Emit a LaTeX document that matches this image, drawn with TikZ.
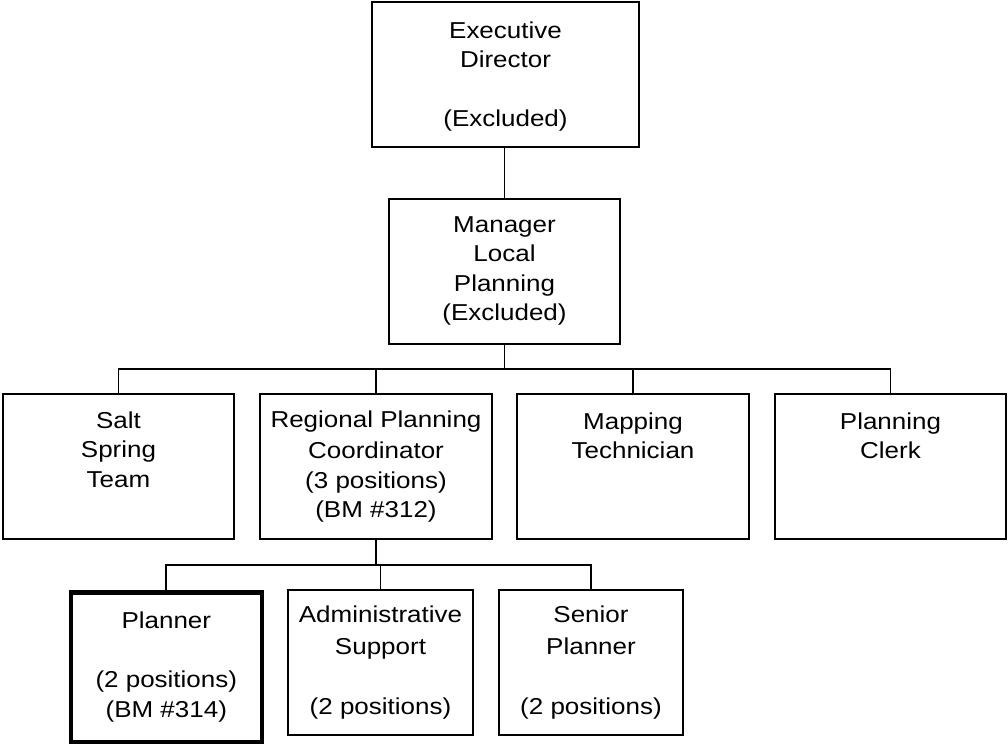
\documentclass[tikz,border=0pt]{standalone}
\usepackage{fontspec}
\setmainfont{Liberation Sans}[FakeStretch=1.13]
\newcommand{\bxt}[4]{\parbox[c][#2][t]{#1}{\centering\vspace*{#3}\rule{0pt}{20pt}#4}}
\begin{document}
\begin{tikzpicture}[x=1pt,y=-1pt,
  box/.style={draw, line width=1.9pt, inner sep=0pt, outer sep=0pt,
    font=\fontsize{23}{29.5}\selectfont},
  thickbox/.style={box, line width=4.5pt},
  conn/.style={line width=1.9pt}]
\useasboundingbox (0,0) rectangle (1008,744);
\fill[white] (0,0) rectangle (1008,744);
% top
\node[box] (exec) at (505.5,74.5) {\bxt{267pt}{145pt}{16pt}{Executive\\Director\\[29.5pt](Excluded)}};
\node[box] (mgr) at (504.5,271.5) {\bxt{231pt}{145pt}{13pt}{Manager\\Local\\Planning\\(Excluded)}};
% middle row
\node[box] (salt) at (118.5,466.5) {\bxt{231pt}{145pt}{14pt}{Salt\\Spring\\Team}};
\node[box] (reg) at (376,466.5) {\bxt{232pt}{145pt}{13pt}{Regional Planning\\[2pt]Coordinator\\(3 positions)\\(BM \#312)}};
\node[box] (map) at (633,466.5) {\bxt{232pt}{145pt}{15pt}{Mapping\\Technician}};
\node[box] (clerk) at (890.5,466.5) {\bxt{231pt}{145pt}{15pt}{Planning\\Clerk}};
% bottom row
\node[thickbox] (plan) at (166.3,667.2) {\bxt{191pt}{149.5pt}{16.5pt}{Planner\\[29.5pt](2 positions)\\(BM \#314)}};
\node[box] (adm) at (380.5,662.5) {\bxt{185pt}{145pt}{12pt}{Administrative\\[2.5pt]Support\\[31pt](2 positions)}};
\node[box] (sen) at (591,662.5) {\bxt{184pt}{145pt}{12pt}{Senior\\[2.5pt]Planner\\[31pt](2 positions)}};
% bus coordinates
\coordinate (bus1) at (504.5,369);
\coordinate (bus2) at (376,565);
% connectors
\draw[conn] (mgr.north) -- (mgr.north |- exec.south);
\draw[conn] (mgr.south) -- (bus1);
\draw[conn] (salt.north) |- (bus1) -| (clerk.north);
\draw[conn] (reg.north) -- (reg.north |- bus1);
\draw[conn] (map.north) -- (map.north |- bus1);
\draw[conn] (reg.south) -- (bus2);
\draw[conn] (plan.north) |- (bus2) -| (sen.north);
\draw[conn] (adm.north) -- (adm.north |- bus2);
\end{tikzpicture}
\end{document}
